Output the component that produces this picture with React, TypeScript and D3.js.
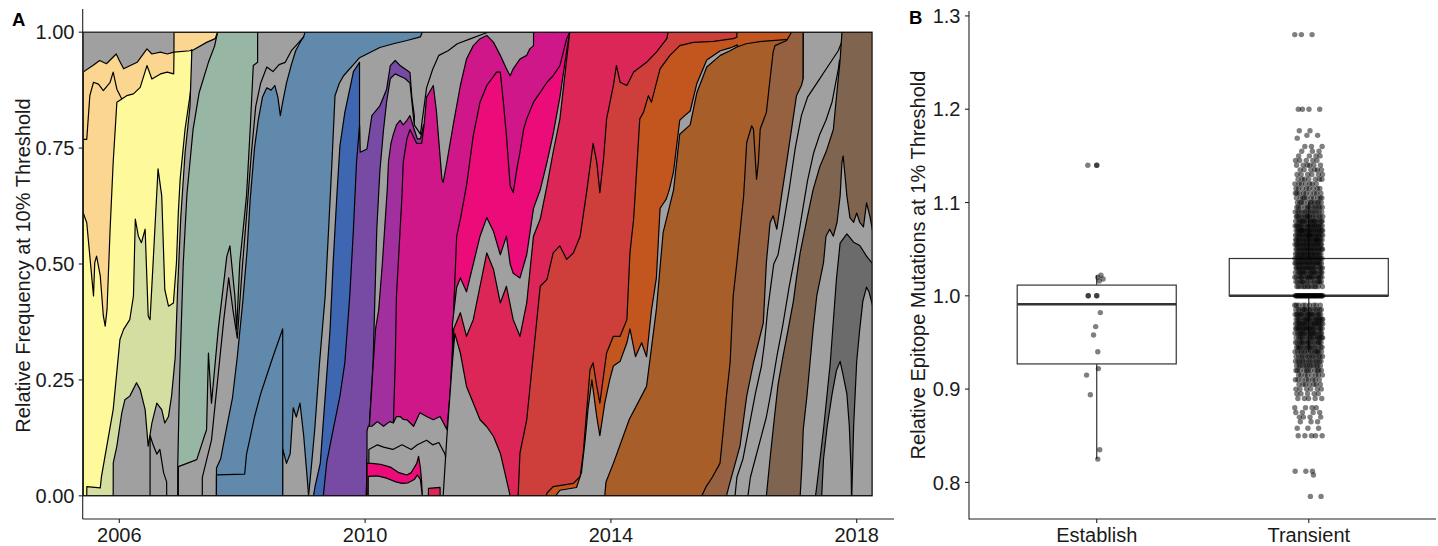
import React from 'react';
import * as d3 from 'd3';

type P = [number, number];

// ---------------- Panel A: clade frequencies (top edge of each clade, [year, cumulative frequency]) ----------------
const orange1: P[] = [[2005.41,0.914],[2005.57,0.928],[2005.68,0.939],[2005.79,0.932],[2005.95,0.953],[2006.0,0.939],[2006.07,0.921],[2006.18,0.928],[2006.29,0.935],[2006.45,0.964],[2006.53,0.953],[2006.67,0.957],[2006.78,0.953],[2006.889,0.957],[2006.89,1.0],[2007.62,1.0]];
const orange2: P[] = [[2005.41,0.769],[2005.47,0.769],[2005.52,0.863],[2005.58,0.892],[2005.66,0.888],[2005.74,0.874],[2005.85,0.892],[2005.90,0.914],[2005.96,0.877],[2006.04,0.856]];
const yellow: P[] = [[2005.41,0.611],[2005.47,0.589],[2005.52,0.517],[2005.58,0.431],[2005.60,0.503],[2005.63,0.517],[2005.69,0.474],[2005.74,0.388],[2005.77,0.366],[2005.80,0.402],[2005.85,0.575],[2005.90,0.719],[2005.96,0.849],[2006.04,0.856],[2006.12,0.863],[2006.23,0.867],[2006.34,0.881],[2006.45,0.928],[2006.53,0.899],[2006.67,0.91],[2006.78,0.914],[2006.885,0.91],[2006.89,0.957],[2007.15,0.96],[2007.18,0.962]];
const paleGreen: P[] = [[2005.47,0],[2005.471,0.020],[2005.69,0.017],[2005.71,0.042],[2005.90,0.186],[2006.01,0.337],[2006.07,0.359],[2006.17,0.380],[2006.23,0.431],[2006.26,0.597],[2006.31,0.560],[2006.36,0.546],[2006.42,0.575],[2006.47,0.388],[2006.50,0.380],[2006.55,0.503],[2006.63,0.705],[2006.69,0.647],[2006.74,0.445],[2006.80,0.409],[2006.88,0.416],[2006.93,0.503],[2006.96,0.611],[2006.99,0.683],[2007.07,0.791],[2007.15,0.863],[2007.18,0.90]];
const grayA: P[] = [[2005.90,0],[2005.901,0.071],[2005.96,0.107],[2006.04,0.179],[2006.09,0.207],[2006.17,0.215],[2006.28,0.244],[2006.34,0.229],[2006.42,0.186],[2006.47,0.107],[2006.53,0.157],[2006.61,0.20],[2006.69,0.186],[2006.74,0.157],[2006.80,0.171],[2006.85,0.215],[2006.91,0.30],[2006.95,0.45],[2007.0,0.60],[2007.07,0.74],[2007.15,0.84],[2007.18,0.96],[2007.42,0.978],[2007.56,0.986],[2007.6,1.0],[2007.64,1.0]];
const grayA2: P[] = [[2006.50,0],[2006.501,0.13],[2006.55,0.11],[2006.61,0.09],[2006.66,0.10],[2006.72,0.05],[2006.77,0.03],[2006.771,0]];
const sage: P[] = [[2006.95,0],[2006.951,0.065],[2006.98,0.25],[2007.04,0.50],[2007.1,0.65],[2007.2,0.79],[2007.3,0.87],[2007.45,0.935],[2007.55,0.97],[2007.6,1.0],[2008.26,1.0]];
const grayB: P[] = [[2006.96,0],[2006.961,0.063],[2007.26,0.078],[2007.42,0.143],[2007.45,0.308],[2007.50,0.20],[2007.61,0.359],[2007.75,0.517],[2007.80,0.539],[2007.88,0.431],[2007.91,0.359],[2007.96,0.503],[2008.07,0.647],[2008.13,0.791],[2008.18,0.928],[2008.25,0.935],[2008.251,1.0],[2009.06,1.0]];
const grayB2: P[] = [[2007.35,0],[2007.351,0.04],[2007.5,0.12],[2007.6,0.25],[2007.7,0.38],[2007.78,0.47],[2007.85,0.40],[2007.92,0.34],[2008.0,0.49],[2008.08,0.62],[2008.15,0.74],[2008.22,0.84],[2008.3,0.89],[2008.4,0.925],[2008.5,0.915],[2008.6,0.93],[2008.7,0.935],[2008.8,0.96],[2008.9,0.975],[2009.0,0.99],[2009.05,1.0],[2009.06,1.0]];
const steelBlue: P[] = [[2007.58,0],[2007.581,0.06],[2007.65,0.08],[2007.75,0.15],[2007.84,0.21],[2007.92,0.30],[2008.01,0.42],[2008.08,0.53],[2008.13,0.64],[2008.2,0.75],[2008.26,0.81],[2008.33,0.86],[2008.4,0.88],[2008.47,0.875],[2008.53,0.885],[2008.58,0.86],[2008.62,0.82],[2008.66,0.85],[2008.72,0.89],[2008.8,0.93],[2008.87,0.96],[2008.95,0.98],[2009.0,0.99],[2009.02,1.0],[2010.96,1.0]];
const blueSub: P[] = [[2007.58,0],[2007.581,0.045],[2008.04,0.047],[2008.07,0.09],[2008.12,0.12],[2008.2,0.17],[2008.3,0.22],[2008.4,0.26],[2008.5,0.30],[2008.58,0.33],[2008.659,0.36],[2008.66,0]];
const grayC1: P[] = [[2008.66,0],[2008.661,0.10],[2008.72,0.07],[2008.78,0.09],[2008.83,0.19],[2008.88,0.17],[2008.94,0.20],[2009.0,0.13],[2009.05,0.05],[2009.08,0]];
const grayC2: P[] = [[2009.08,0],[2009.13,0.07],[2009.18,0.143],[2009.26,0.29],[2009.35,0.431],[2009.4,0.56],[2009.46,0.719],[2009.51,0.863],[2009.58,0.89],[2009.65,0.906],[2009.81,0.93],[2009.91,0.945],[2010.03,0.953],[2010.24,0.967],[2010.46,0.975],[2010.68,0.982],[2010.9,0.99],[2010.92,0.996],[2010.921,1.0],[2013.06,1.0]];
const royalBlue: P[] = [[2009.16,0],[2009.185,0.02],[2009.27,0.07],[2009.35,0.214],[2009.43,0.359],[2009.48,0.503],[2009.54,0.647],[2009.59,0.755],[2009.67,0.827],[2009.75,0.877],[2009.81,0.915],[2009.909,0.935],[2009.91,0]];
const purple: P[] = [[2009.32,0],[2009.375,0.072],[2009.48,0.143],[2009.59,0.215],[2009.67,0.287],[2009.75,0.431],[2009.81,0.575],[2009.86,0.719],[2009.91,0.80],[2009.92,0.741],[2010.03,0.748],[2010.11,0.82],[2010.24,0.841],[2010.35,0.877],[2010.41,0.928],[2010.49,0.939],[2010.57,0.928],[2010.73,0.913],[2010.76,0.86],[2010.8,0.82],[2010.801,0]];
const grayD: P[] = [[2010.02,0],[2010.03,0.07],[2010.13,0.287],[2010.19,0.575],[2010.24,0.7],[2010.3,0.79],[2010.35,0.85],[2010.41,0.9],[2010.49,0.91],[2010.57,0.905],[2010.65,0.9],[2010.73,0.89],[2010.8,0.8],[2010.9,0.78],[2011.0,0.88],[2011.1,0.92],[2011.2,0.95],[2011.35,0.96],[2011.5,0.975],[2011.7,0.985],[2011.9,0.995],[2012.0,1.0],[2013.06,1.0]];
const violet: P[] = [[2010.02,0],[2010.03,0.065],[2010.13,0.28],[2010.17,0.36],[2010.22,0.40],[2010.28,0.50],[2010.33,0.6],[2010.36,0.66],[2010.38,0.72],[2010.42,0.76],[2010.46,0.78],[2010.51,0.8],[2010.57,0.81],[2010.62,0.8],[2010.68,0.81],[2010.73,0.82],[2010.8,0.79],[2010.85,0.77],[2010.9,0.77],[2010.95,0.8],[2010.951,0]];
const magenta: P[] = [[2010.44,0],[2010.46,0.157],[2010.49,0.287],[2010.51,0.431],[2010.57,0.575],[2010.6,0.647],[2010.62,0.719],[2010.68,0.77],[2010.73,0.79],[2010.84,0.76],[2010.92,0.76],[2010.96,0.8],[2011.0,0.86],[2011.11,0.885],[2011.16,0.83],[2011.25,0.683],[2011.27,0.676],[2011.33,0.719],[2011.44,0.805],[2011.49,0.841],[2011.55,0.885],[2011.65,0.942],[2011.76,0.971],[2011.87,0.986],[2011.98,0.993],[2012.09,0.978],[2012.2,0.95],[2012.3,0.921],[2012.36,0.906],[2012.41,0.921],[2012.52,0.942],[2012.63,0.95],[2012.68,0.964],[2012.74,0.971],[2012.741,1.0],[2013.41,1.0]];
const grayE: P[] = [[2010.03,0],[2010.031,0.14],[2010.05,0.15],[2010.11,0.15],[2010.2,0.16],[2010.3,0.15],[2010.4,0.16],[2010.46,0.157],[2010.51,0.171],[2010.57,0.171],[2010.62,0.165],[2010.68,0.164],[2010.79,0.15],[2010.89,0.179],[2011.0,0.171],[2011.11,0.164],[2011.22,0.171],[2011.33,0.143],[2011.38,0.215],[2011.44,0.359],[2011.46,0.45],[2011.48,0.5],[2011.5,0.5],[2011.501,0]];
const grayE2: P[] = [[2010.06,0],[2010.061,0.10],[2010.2,0.11],[2010.3,0.105],[2010.45,0.1],[2010.6,0.11],[2010.75,0.1],[2010.85,0.11],[2011.0,0.12],[2011.1,0.11],[2011.2,0.115],[2011.3,0.09],[2011.35,0.05],[2011.38,0]];
const hotPinkThin: P[] = [[2010.03,0],[2010.031,0.07],[2010.11,0.07],[2010.25,0.068],[2010.41,0.062],[2010.55,0.05],[2010.68,0.045],[2010.75,0.05],[2010.84,0.07],[2010.87,0.085],[2010.9,0.06],[2010.92,0.03],[2010.93,0]];
const grayF: P[] = [[2010.05,0],[2010.051,0.042],[2010.2,0.043],[2010.35,0.038],[2010.5,0.03],[2010.6,0.027],[2010.7,0.028],[2010.8,0.035],[2010.85,0.045],[2010.9,0.035],[2010.93,0]];
const crimsonSmall: P[] = [[2011.03,0],[2011.031,0.016],[2011.22,0.018],[2011.221,0]];
const hotPink: P[] = [[2011.44,0],[2011.441,0.40],[2011.49,0.56],[2011.55,0.597],[2011.65,0.669],[2011.76,0.777],[2011.87,0.849],[2011.98,0.885],[2012.14,0.914],[2012.2,0.914],[2012.25,0.849],[2012.3,0.777],[2012.36,0.669],[2012.41,0.654],[2012.47,0.705],[2012.52,0.741],[2012.58,0.791],[2012.63,0.813],[2012.74,0.849],[2012.85,0.87],[2012.96,0.892],[2013.06,0.906],[2013.17,0.928],[2013.28,0.986],[2013.33,1.0],[2013.41,1.0]];
const grayG: P[] = [[2011.42,0],[2011.421,0.37],[2011.49,0.45],[2011.55,0.47],[2011.65,0.44],[2011.76,0.50],[2011.87,0.56],[2011.98,0.60],[2012.09,0.57],[2012.2,0.52],[2012.3,0.56],[2012.36,0.50],[2012.41,0.48],[2012.52,0.47],[2012.63,0.52],[2012.74,0.62],[2012.85,0.66],[2012.96,0.72],[2013.06,0.78],[2013.17,0.86],[2013.28,0.96],[2013.33,1.0],[2013.41,1.0]];
const crimson: P[] = [[2011.44,0],[2011.441,0.36],[2011.55,0.395],[2011.65,0.344],[2011.76,0.38],[2011.87,0.452],[2011.98,0.524],[2012.09,0.488],[2012.2,0.416],[2012.3,0.452],[2012.41,0.38],[2012.52,0.344],[2012.63,0.416],[2012.74,0.56],[2012.85,0.597],[2012.96,0.669],[2013.06,0.741],[2013.17,0.813],[2013.28,0.942],[2013.33,1.0],[2014.96,1.0]];
const grayH: P[] = [[2011.27,0],[2011.33,0.126],[2011.41,0.27],[2011.46,0.35],[2011.55,0.308],[2011.65,0.236],[2011.76,0.2],[2011.87,0.164],[2011.98,0.149],[2012.09,0.128],[2012.2,0.092],[2012.3,0.035],[2012.36,0]];
const redOrange: P[] = [[2012.49,0],[2012.52,0.092],[2012.63,0.164],[2012.74,0.308],[2012.85,0.452],[2012.96,0.467],[2013.06,0.524],[2013.17,0.539],[2013.28,0.51],[2013.39,0.524],[2013.5,0.56],[2013.61,0.66],[2013.71,0.76],[2013.77,0.719],[2013.82,0.654],[2013.88,0.726],[2013.93,0.813],[2014.04,0.885],[2014.09,0.928],[2014.15,0.892],[2014.26,0.885],[2014.37,0.914],[2014.58,0.935],[2014.74,0.957],[2014.91,0.986],[2014.93,1.0],[2016.06,1.0]];
const burntOrange: P[] = [[2012.95,0],[2012.96,0.006],[2013.06,0.02],[2013.39,0.027],[2013.5,0.042],[2013.55,0.092],[2013.66,0.272],[2013.71,0.287],[2013.77,0.236],[2013.82,0.2],[2013.93,0.308],[2014.04,0.344],[2014.15,0.344],[2014.26,0.38],[2014.31,0.524],[2014.37,0.597],[2014.42,0.705],[2014.47,0.813],[2014.53,0.827],[2014.61,0.863],[2014.66,0.849],[2014.8,0.921],[2014.96,0.95],[2015.12,0.971],[2015.34,0.978],[2015.67,0.98],[2015.99,0.986],[2016.05,0.989],[2016.051,1.0],[2016.96,1.0]];
const grayIJ: P[] = [[2013.1,0],[2013.17,0.012],[2013.44,0.018],[2013.52,0.05],[2013.58,0.12],[2013.63,0.19],[2013.69,0.25],[2013.77,0.17],[2013.82,0.13],[2013.9,0.2],[2013.98,0.25],[2014.04,0.28],[2014.15,0.29],[2014.26,0.33],[2014.31,0.36],[2014.4,0.30],[2014.5,0.33],[2014.58,0.30],[2014.66,0.40],[2014.74,0.47],[2014.8,0.62],[2014.85,0.63],[2014.9,0.64],[2014.95,0.66],[2015.02,0.70],[2015.12,0.81],[2015.2,0.82],[2015.29,0.83],[2015.4,0.89],[2015.56,0.94],[2015.78,0.96],[2015.94,0.966],[2016.05,0.972],[2016.06,0.972],[2016.061,0]];
const orangeBrown: P[] = [[2013.9,0],[2013.92,0.03],[2014.04,0.07],[2014.3,0.165],[2014.58,0.236],[2014.74,0.402],[2014.85,0.568],[2014.91,0.6],[2015.02,0.66],[2015.12,0.78],[2015.29,0.80],[2015.40,0.87],[2015.56,0.925],[2015.78,0.95],[2015.94,0.96],[2016.05,0.968],[2016.2,0.975],[2016.45,0.98],[2016.94,0.985],[2016.941,0]];
const brown: P[] = [[2015.48,0],[2015.55,0.02],[2015.65,0.04],[2015.775,0.07],[2015.83,0.143],[2015.88,0.215],[2015.94,0.287],[2015.99,0.431],[2016.05,0.503],[2016.16,0.647],[2016.21,0.762],[2016.29,0.798],[2016.32,0.791],[2016.37,0.683],[2016.4,0.719],[2016.43,0.791],[2016.53,0.827],[2016.59,0.899],[2016.64,0.957],[2016.67,0.971],[2016.86,0.982],[2016.94,1.0],[2017.13,1.0],[2017.131,0]];
const grayK: P[] = [[2015.88,0],[2015.94,0.03],[2016.1,0.107],[2016.21,0.215],[2016.32,0.287],[2016.48,0.373],[2016.53,0.503],[2016.59,0.589],[2016.64,0.604],[2016.7,0.575],[2016.78,0.65],[2016.86,0.719],[2017.02,0.863],[2017.1,0.885],[2017.13,0.9],[2017.131,1.0],[2017.77,1.0]];
const grayK2: P[] = [[2016.02,0],[2016.05,0.04],[2016.15,0.08],[2016.25,0.15],[2016.35,0.22],[2016.45,0.28],[2016.5,0.33],[2016.55,0.40],[2016.6,0.45],[2016.65,0.50],[2016.72,0.52],[2016.8,0.58],[2016.9,0.66],[2017.0,0.75],[2017.1,0.82],[2017.2,0.86],[2017.3,0.88],[2017.4,0.9],[2017.5,0.92],[2017.6,0.94],[2017.7,0.96],[2017.76,0.98],[2017.761,0]];
const grayK3: P[] = [[2016.23,0],[2016.27,0.04],[2016.35,0.08],[2016.45,0.13],[2016.53,0.17],[2016.6,0.22],[2016.7,0.3],[2016.8,0.37],[2016.9,0.45],[2017.0,0.52],[2017.1,0.6],[2017.2,0.68],[2017.3,0.74],[2017.4,0.78],[2017.5,0.81],[2017.6,0.85],[2017.7,0.92],[2017.72,0.94],[2017.721,0]];
const taupe: P[] = [[2016.53,0],[2016.59,0.08],[2016.64,0.143],[2016.72,0.24],[2016.8,0.3],[2016.9,0.37],[2016.97,0.42],[2017.02,0.47],[2017.08,0.524],[2017.19,0.597],[2017.29,0.66],[2017.40,0.71],[2017.51,0.745],[2017.62,0.79],[2017.67,0.86],[2017.73,0.94],[2017.76,1.0],[2018.26,1.0]];
const grayL: P[] = [[2017.08,0],[2017.11,0.07],[2017.13,0.143],[2017.19,0.215],[2017.24,0.287],[2017.29,0.359],[2017.35,0.431],[2017.46,0.503],[2017.5,0.56],[2017.56,0.575],[2017.62,0.56],[2017.68,0.59],[2017.73,0.647],[2017.76,0.719],[2017.78,0.733],[2017.8,0.705],[2017.84,0.647],[2017.89,0.6],[2017.95,0.59],[2018.0,0.61],[2018.05,0.59],[2018.11,0.58],[2018.16,0.632],[2018.22,0.60],[2018.26,0.57]];
const darkGray: P[] = [[2017.33,0],[2017.35,0.02],[2017.46,0.143],[2017.57,0.287],[2017.67,0.467],[2017.73,0.545],[2017.84,0.565],[2017.95,0.547],[2018.05,0.54],[2018.16,0.517],[2018.26,0.5]];
const grayN: P[] = [[2017.43,0],[2017.46,0.08],[2017.52,0.15],[2017.6,0.22],[2017.67,0.27],[2017.73,0.29],[2017.78,0.26],[2017.84,0.22],[2017.88,0.15],[2017.91,0.05],[2017.915,0]];
const grayM: P[] = [[2017.92,0],[2017.95,0.15],[2018.0,0.29],[2018.05,0.36],[2018.1,0.42],[2018.16,0.45],[2018.2,0.44],[2018.26,0.41]];

const palette = {
  gray: '#A0A0A0', orange: '#FBD690', yellow: '#FEF99B', paleGreen: '#D4DEA1', sage: '#98B6A4',
  steelBlue: '#6089AB', royalBlue: '#3F66B1', purple: '#774BA4', violet: '#A22F9E', magenta: '#CF1789',
  hotPink: '#EC0C79', crimson: '#DC2657', redOrange: '#CE3E3B', burntOrange: '#C3561F',
  orangeBrown: '#A85E29', brown: '#956141', taupe: '#7F6450', darkGray: '#6B6B6B',
};

// drawing order: oldest clade first, each newer clade painted on top
const mullerLayers: { data: P[]; color: string }[] = [
  { data: orange1, color: palette.orange }, { data: orange2, color: palette.orange },
  { data: yellow, color: palette.yellow }, { data: paleGreen, color: palette.paleGreen },
  { data: grayA, color: palette.gray }, { data: grayA2, color: palette.gray },
  { data: sage, color: palette.sage }, { data: grayB, color: palette.gray }, { data: grayB2, color: palette.gray },
  { data: steelBlue, color: palette.steelBlue }, { data: blueSub, color: palette.steelBlue },
  { data: grayC1, color: palette.gray }, { data: grayC2, color: palette.gray },
  { data: royalBlue, color: palette.royalBlue }, { data: purple, color: palette.purple },
  { data: grayD, color: palette.gray }, { data: violet, color: palette.violet },
  { data: magenta, color: palette.magenta }, { data: grayE, color: palette.gray }, { data: grayE2, color: palette.gray },
  { data: hotPinkThin, color: palette.hotPink }, { data: grayF, color: palette.gray },
  { data: crimsonSmall, color: palette.crimson }, { data: hotPink, color: palette.hotPink },
  { data: grayG, color: palette.gray }, { data: crimson, color: palette.crimson }, { data: grayH, color: palette.gray },
  { data: redOrange, color: palette.redOrange }, { data: burntOrange, color: palette.burntOrange },
  { data: grayIJ, color: palette.gray }, { data: orangeBrown, color: palette.orangeBrown },
  { data: brown, color: palette.brown }, { data: grayK, color: palette.gray }, { data: grayK2, color: palette.gray },
  { data: grayK3, color: palette.gray }, { data: taupe, color: palette.taupe },
  { data: grayL, color: palette.gray }, { data: darkGray, color: palette.darkGray },
  { data: grayN, color: palette.gray }, { data: grayM, color: palette.gray },
];

const yearTicks = [2006, 2010, 2014, 2018];
const freqTicks = [0, 0.25, 0.5, 0.75, 1];
const dataStart = 2005.41;
const dataEnd = 2018.25;

// ---------------- Panel B: relative epitope mutations ----------------
const groups = ['Establish', 'Transient'];
const establishValues = [1.14, 1.14, 1.14, 1.02, 1.022, 1.018, 1.016, 1.0, 1.0, 1.0, 1.0, 0.982, 0.967, 0.958, 0.94, 0.922, 0.915, 0.894, 0.835, 0.825];
const establishJitter = [-0.042, 0.0, 0.0, 0.005, 0.02, 0.03, 0.012, -0.04, -0.04, 0.0, 0.0, 0.017, -0.005, -0.015, 0.005, 0.008, -0.048, -0.03, 0.014, 0.005];
const establishStats = [0.825, 0.927, 0.991, 1.0115, 1.022]; // whisker low, q1, median, q3, whisker high
const transientLevels = [1.28, 1.2, 1.177, 1.172, 1.169, 1.16, 1.155, 1.15, 1.145, 1.14, 1.135, 1.13, 1.125, 1.12, 1.115, 1.11, 1.105, 1.1, 1.095, 1.09, 1.085, 1.08, 1.075, 1.07, 1.065, 1.06, 1.055, 1.05, 1.045, 1.04, 1.035, 1.03, 1.025, 1.02, 1.015, 1.01, 1.0, 0.99, 0.985, 0.98, 0.975, 0.97, 0.965, 0.96, 0.955, 0.95, 0.945, 0.94, 0.935, 0.93, 0.925, 0.92, 0.915, 0.91, 0.905, 0.9, 0.895, 0.89, 0.88, 0.875, 0.87, 0.865, 0.858, 0.85, 0.812, 0.808, 0.785];
const transientCounts = [3, 4, 2, 2, 1, 3, 3, 4, 5, 6, 6, 6, 7, 7, 8, 9, 10, 11, 12, 13, 15, 18, 20, 22, 22, 22, 21, 21, 20, 21, 21, 20, 18, 18, 15, 12, 34, 9, 14, 18, 19, 20, 20, 18, 17, 16, 15, 14, 13, 13, 12, 11, 8, 8, 7, 6, 5, 5, 4, 4, 4, 3, 3, 5, 3, 1, 2];
const transientStats = [0.94, 1.0, 1.0, 1.04, 1.1];
const ratioTicks = [0.8, 0.9, 1.0, 1.1, 1.2, 1.3];

const FONT = '"Liberation Sans", Arial, Helvetica, sans-serif';
const TXT = '#1a1a1a';
const AX = '#222';

export default function App() {
  const W = 1438, H = 546;
  const fs = 20;

  // Panel A scales
  const xA = d3.scaleLinear().domain([2005.404, 2018.607]).range([82.7, 894]);
  const yA = d3.scaleLinear().domain([-0.05, 1.05]).range([519, 9]);
  const area = d3.area<P>().x(d => xA(d[0])).y0(yA(0)).y1(d => yA(d[1]));
  const px0 = xA(dataStart), px1 = xA(dataEnd), py0 = yA(0), py1 = yA(1);

  // Panel B scales
  const xB = d3.scalePoint<string>().domain(groups).range([969.5, 1436]).padding(0.6);
  const step = xB.step();
  const yB = d3.scaleLinear().domain([0.76025, 1.30475]).range([519.5, 11.5]);
  const boxW = step * 0.75;

  const transientPts: { v: number; o: number }[] = [];
  transientLevels.forEach((v, i) => {
    const c = transientCounts[i];
    for (let j = 0; j < c; j++) {
      const u = ((j * 0.6180339 + i * 0.2718) % 1) - 0.5;
      transientPts.push({ v, o: u * 2 * 0.066 });
    }
  });

  const boxes = [
    { g: 'Establish', s: establishStats },
    { g: 'Transient', s: transientStats },
  ];

  return (
    <svg width={W} height={H} style={{ position: 'absolute', left: 0, top: 0, background: '#fff' }} fontFamily={FONT}>
      <defs>
        <clipPath id="mullerClip">
          <rect x={px0} y={py1} width={px1 - px0} height={py0 - py1} />
        </clipPath>
      </defs>

      {/* Panel A */}
      <g clipPath="url(#mullerClip)">
        <rect x={px0} y={py1} width={px1 - px0} height={py0 - py1} fill={palette.gray} />
        {mullerLayers.map((l, i) => (
          <path key={i} d={area(l.data) || ''} fill={l.color} stroke="#000" strokeWidth={1.2} strokeLinejoin="round" />
        ))}
      </g>
      <rect x={px0} y={py1} width={px1 - px0} height={py0 - py1} fill="none" stroke="#111" strokeWidth={1.2} />

      <line x1={82.7} x2={82.7} y1={9} y2={519} stroke={AX} strokeWidth={1.1} />
      <line x1={82.7} x2={894} y1={519} y2={519} stroke={AX} strokeWidth={1.1} />
      {freqTicks.map(t => (
        <g key={t}>
          <line x1={78.7} x2={82.7} y1={yA(t)} y2={yA(t)} stroke={AX} strokeWidth={1.1} />
          <text x={74.5} y={yA(t)} dy="0.36em" textAnchor="end" fontSize={fs} fill={TXT}>{t.toFixed(2)}</text>
        </g>
      ))}
      {yearTicks.map(t => (
        <g key={t}>
          <line x1={xA(t)} x2={xA(t)} y1={519} y2={523} stroke={AX} strokeWidth={1.1} />
          <text x={xA(t)} y={541.5} textAnchor="middle" fontSize={fs} fill={TXT}>{t}</text>
        </g>
      ))}
      <text transform="translate(23,265.5) rotate(-90)" textAnchor="middle" dy="0.36em" fontSize={fs} fill={TXT}>Relative Frequency at 10% Threshold</text>
      <text x={12} y={26} fontSize={18.5} fontWeight="bold" fill="#000">A</text>

      {/* Panel B */}
      {boxes.map(b => {
        const cx = xB(b.g) as number;
        const [lo, q1, med, q3, hi] = b.s;
        return (
          <g key={b.g}>
            <line x1={cx} x2={cx} y1={yB(q1)} y2={yB(lo)} stroke="#333" strokeWidth={1.2} />
            <line x1={cx} x2={cx} y1={yB(q3)} y2={yB(hi)} stroke="#333" strokeWidth={1.2} />
            <rect x={cx - boxW / 2} y={yB(q3)} width={boxW} height={yB(q1) - yB(q3)} fill="#fff" stroke="#333" strokeWidth={1.2} />
            <line x1={cx - boxW / 2} x2={cx + boxW / 2} y1={yB(med)} y2={yB(med)} stroke="#333" strokeWidth={2.4} />
          </g>
        );
      })}
      {establishValues.map((v, i) => (
        <circle key={'e' + i} cx={(xB('Establish') as number) + establishJitter[i] * step} cy={yB(v)} r={2.7} fill="#000" fillOpacity={0.5} />
      ))}
      {transientPts.map((p, i) => (
        <circle key={'t' + i} cx={(xB('Transient') as number) + p.o * step} cy={yB(p.v)} r={2.7} fill="#000" fillOpacity={0.5} />
      ))}

      <line x1={969} x2={969} y1={11} y2={519.5} stroke={AX} strokeWidth={1.1} />
      <line x1={969} x2={1436} y1={519} y2={519} stroke={AX} strokeWidth={1.1} />
      {ratioTicks.map(t => (
        <g key={t}>
          <line x1={965} x2={969} y1={yB(t)} y2={yB(t)} stroke={AX} strokeWidth={1.1} />
          <text x={960.5} y={yB(t)} dy="0.36em" textAnchor="end" fontSize={fs} fill={TXT}>{t.toFixed(1)}</text>
        </g>
      ))}
      {groups.map(g => (
        <g key={g}>
          <line x1={xB(g) as number} x2={xB(g) as number} y1={519} y2={523} stroke={AX} strokeWidth={1.1} />
          <text x={xB(g) as number} y={541.5} textAnchor="middle" fontSize={fs} fill={TXT}>{g}</text>
        </g>
      ))}
      <text transform="translate(918,265) rotate(-90)" textAnchor="middle" dy="0.36em" fontSize={fs} fill={TXT}>Relative Epitope Mutations at 1% Threshold</text>
      <text x={909} y={24} fontSize={18.5} fontWeight="bold" fill="#000">B</text>
    </svg>
  );
}
